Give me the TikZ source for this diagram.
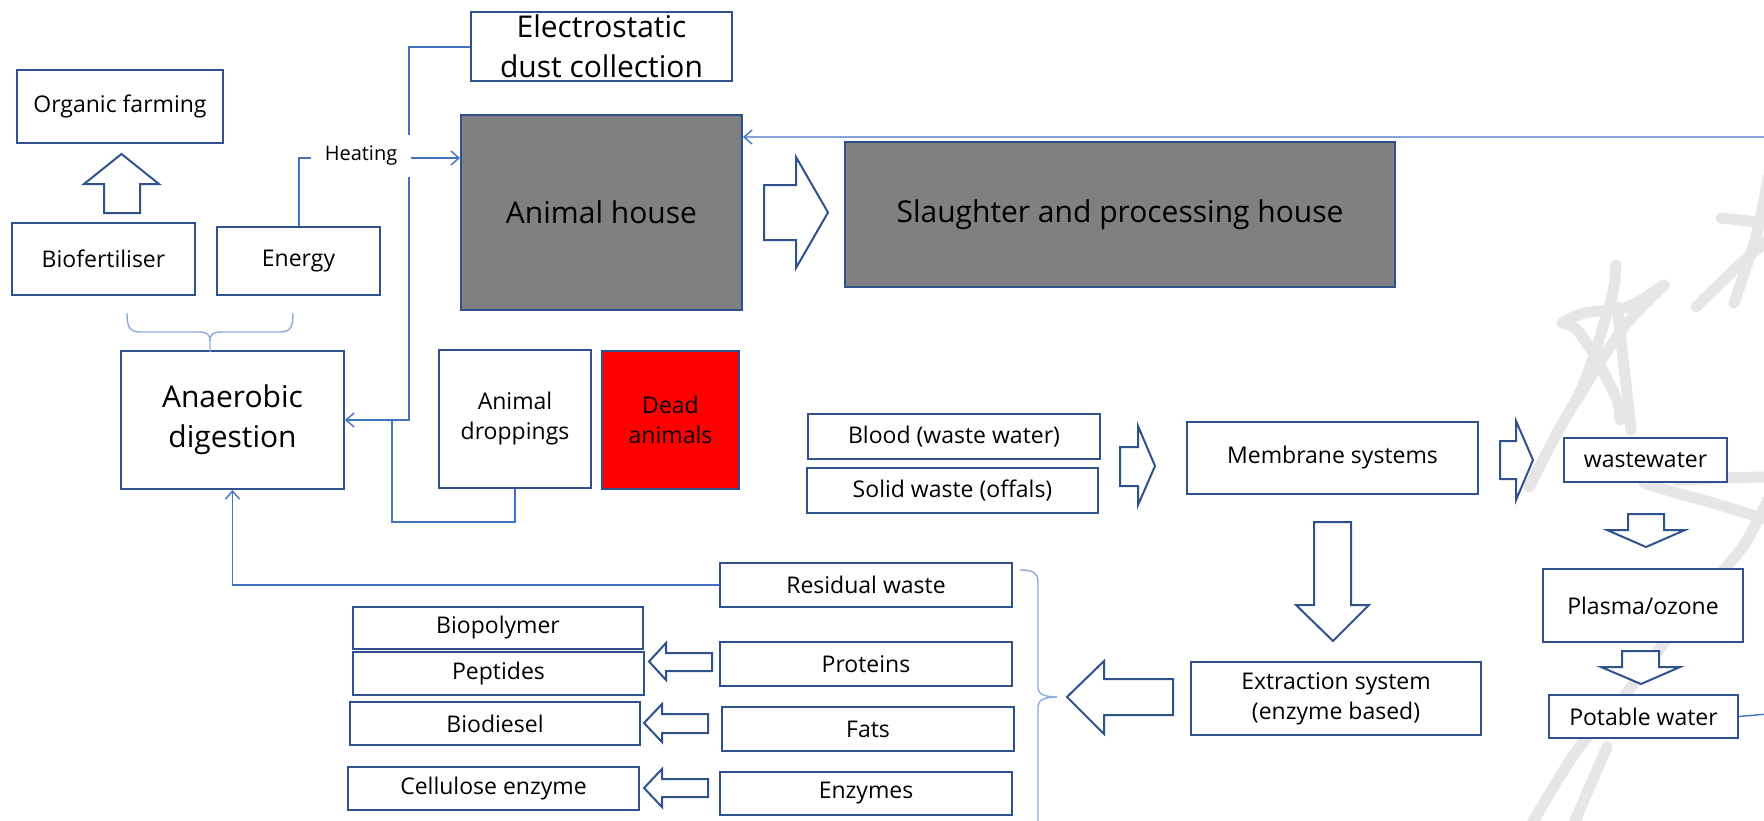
\documentclass[tikz,border=0pt]{standalone}
\usepackage{fontspec}
\setmainfont{Open Sans}
\usetikzlibrary{arrows.meta}

\definecolor{boxline}{HTML}{2F528F}
\definecolor{linkline}{HTML}{4472C4}
\definecolor{braceline}{HTML}{8FAADC}
\definecolor{wmgrey}{HTML}{E6E6E6}
\definecolor{housegrey}{HTML}{808080}

% box from its two corners (in pixel units): [style] name x1 y1 x2 y2 text
\newcommand\mkbox[7][]{%
  \pgfmathsetmacro\bw{(#5-#3)*0.5}%
  \pgfmathsetmacro\bh{(#6-#4)*0.5}%
  \node[bx,#1,minimum width=\bw pt,minimum height=\bh pt] (#2)
    at ({(#3+#5)/2},{(#4+#6)/2}) {#7};}

\begin{document}
\begin{tikzpicture}[x=0.5pt,y=-0.5pt,
  txt/.style={font=\fontsize{11.5pt}{15pt}\selectfont},
  bigtxt/.style={font=\fontsize{15pt}{20pt}\selectfont},
  bx/.style={draw=boxline,line width=1pt,fill=white,align=center,inner sep=0pt,txt},
  house/.style={fill=housegrey,bigtxt},
  blockarrow/.style={draw=boxline,line width=1pt,fill=white,line join=miter},
  link/.style={draw=linkline,line width=0.7pt},
  tip/.style={-{Straight Barb[length=4pt,width=7pt]}},
  brace/.style={draw=braceline,line width=0.7pt},
  wm/.style={draw=wmgrey,line width=5.5pt,line cap=round,line join=round}]

\fill[white] (0,0) rectangle (1764,820);
\useasboundingbox (0,0) rectangle (1764,820);

% hand-drawn stars in the background
\draw[wm] plot[smooth] coordinates {(1616,265) (1611,300) (1584,383) (1557,433) (1529,487)};
\draw[wm] plot[smooth] coordinates {(1562,323) (1584,313) (1627,307) (1664,285)};
\draw[wm] plot[smooth] coordinates {(1562,323) (1577,330) (1597,360) (1617,400) (1620,420)};
\draw[wm] plot[smooth] coordinates {(1664,285) (1627,323) (1597,367) (1577,400)};
\draw[wm] plot[smooth] coordinates {(1617,307) (1624,367) (1631,430)};
\draw[wm] plot[smooth] coordinates {(1768,177) (1757,233) (1734,303)};
\draw[wm] (1721,218) -- (1768,223);
\draw[wm] plot[smooth] coordinates {(1768,240) (1737,267) (1696,307)};
\draw[wm] plot[smooth] coordinates {(1768,500) (1744,545) (1711,585) (1664,643) (1621,700) (1577,750) (1531,825)};
\draw[wm] (1607,747) -- (1573,825);
\draw[wm] plot[smooth] coordinates {(1677,480) (1720,478) (1768,477)};
\draw[wm] plot[smooth] coordinates {(1644,483) (1677,493) (1720,505) (1768,520)};

% boxes
\mkbox{org}{17}{70}{223}{143}{Organic farming}
\mkbox{bio}{12}{223}{195}{295}{Biofertiliser}
\mkbox{ene}{217}{227}{380}{295}{Energy}
\mkbox[bigtxt]{ana}{121}{351}{344}{489}{Anaerobic\\digestion}
\mkbox[bigtxt]{esp}{471}{12}{732}{81}{Electrostatic\\dust collection}
\mkbox[house]{ah}{461}{115}{742}{310}{Animal house}
\mkbox[house]{sl}{845}{142}{1395}{287}{Slaughter and processing house}
\mkbox{dro}{439}{350}{591}{488}{Animal\\droppings}
\mkbox[fill=red]{dead}{602}{351}{739}{489}{Dead\\animals}
\mkbox{blood}{808}{414}{1100}{459}{Blood (waste water)}
\mkbox{solid}{807}{468}{1098}{513}{Solid waste (offals)}
\mkbox{mem}{1187}{422}{1478}{494}{Membrane systems}
\mkbox{ww}{1564}{438}{1727}{482}{wastewater}
\mkbox{pla}{1543}{569}{1743}{642}{Plasma/ozone}
\mkbox{pot}{1549}{695}{1738}{738}{Potable water}
\mkbox{ext}{1191}{662}{1481}{735}{Extraction system\\(enzyme based)}
\mkbox{res}{720}{563}{1012}{607}{Residual waste}
\mkbox{pro}{720}{642}{1012}{686}{Proteins}
\mkbox{fat}{722}{707}{1014}{751}{Fats}
\mkbox{enz}{720}{772}{1012}{815}{Enzymes}
\mkbox{bpol}{353}{607}{643}{649}{Biopolymer}
\mkbox{pep}{353}{652}{644}{695}{Peptides}
\mkbox{bdi}{350}{702}{640}{745}{Biodiesel}
\mkbox{cel}{348}{767}{639}{810}{Cellulose enzyme}

% heating label
\node[fill=white,inner sep=0pt,minimum width=50pt,minimum height=21pt,
      font=\fontsize{10pt}{12pt}\selectfont] (heat) at (361,156) {Heating};

% block arrows
\draw[blockarrow] (104,213) -- (104,184) -- (84,184) -- (121.5,154) -- (159,184) -- (140,184) -- (140,213) -- cycle;
\draw[blockarrow] (764,185) -- (796,185) -- (796,157) -- (828,212.5) -- (796,268) -- (796,240) -- (764,240) -- cycle;
\draw[blockarrow] (1120,447) -- (1138,447) -- (1138,426) -- (1155,466) -- (1138,505) -- (1138,486) -- (1120,486) -- cycle;
\draw[blockarrow] (1500,441) -- (1516,441) -- (1516,421) -- (1533,460) -- (1516,500) -- (1516,479) -- (1500,479) -- cycle;
\draw[blockarrow] (1628,514) -- (1664,514) -- (1664,530) -- (1685,530) -- (1646,547) -- (1607,530) -- (1628,530) -- cycle;
\draw[blockarrow] (1622,651) -- (1659,651) -- (1659,667) -- (1680,667) -- (1641,684) -- (1601,667) -- (1622,667) -- cycle;
\draw[blockarrow] (1314,522) -- (1351,522) -- (1351,605) -- (1369,605) -- (1333,641) -- (1296,605) -- (1314,605) -- cycle;
\draw[blockarrow] (1173,679) -- (1104,679) -- (1104,661) -- (1067,697) -- (1104,734) -- (1104,715) -- (1173,715) -- cycle;
\draw[blockarrow] (712,653) -- (666,653) -- (666,643) -- (649,661.5) -- (666,680) -- (666,671) -- (712,671) -- cycle;
\draw[blockarrow] (708,714) -- (662,714) -- (662,704) -- (644,723) -- (662,742) -- (662,733) -- (708,733) -- cycle;
\draw[blockarrow] (708,779) -- (662,779) -- (662,769) -- (644,788) -- (662,807) -- (662,797) -- (708,797) -- cycle;

% connectors
\coordinate (upA) at (409,47);
\coordinate (upB) at (409,135);
\coordinate (dnA) at (409,177);
\coordinate (dnB) at (409,420);
\coordinate (dropJoin) at (392,420);
\coordinate (loopR) at (1800,711);
\draw[link] (esp.west |- upA) -- (upA) -- (upB);
\draw[link,tip] (dnA) -- (dnB) -- (ana.east |- dnB);
\draw[link] (dro.south -| 515,0) -- (515,522) -- (392,522) -- (dropJoin);
\draw[link] (ene.north -| 299,0) -- (299,158) -- (heat.west |- 0,158);
\draw[link,tip] (heat.east |- 0,158) -- (ah.west |- 0,158);
\draw[link,tip] (res.west) -| (ana.south);
\draw[link,tip] (pot.east) -- (loopR) -- (loopR |- 0,137) -- (ah.east |- 0,137);

% braces
\draw[brace] (127,313) .. controls (127,326) and (129,332) .. (140,332) -- (198,332)
  .. controls (207,332) and (210,334) .. (210,341) -- (210,352);
\draw[brace] (210,341) .. controls (210,334) and (213,332) .. (222,332) -- (280,332)
  .. controls (291,332) and (293,326) .. (293,313);
\draw[brace] (1020,570) .. controls (1032,570) and (1038,572) .. (1038,582) -- (1038,688)
  .. controls (1038,694) and (1045,697) .. (1057,697);
\draw[brace] (1057,697) .. controls (1045,697) and (1038,700) .. (1038,706) -- (1038,830);

\end{tikzpicture}
\end{document}
